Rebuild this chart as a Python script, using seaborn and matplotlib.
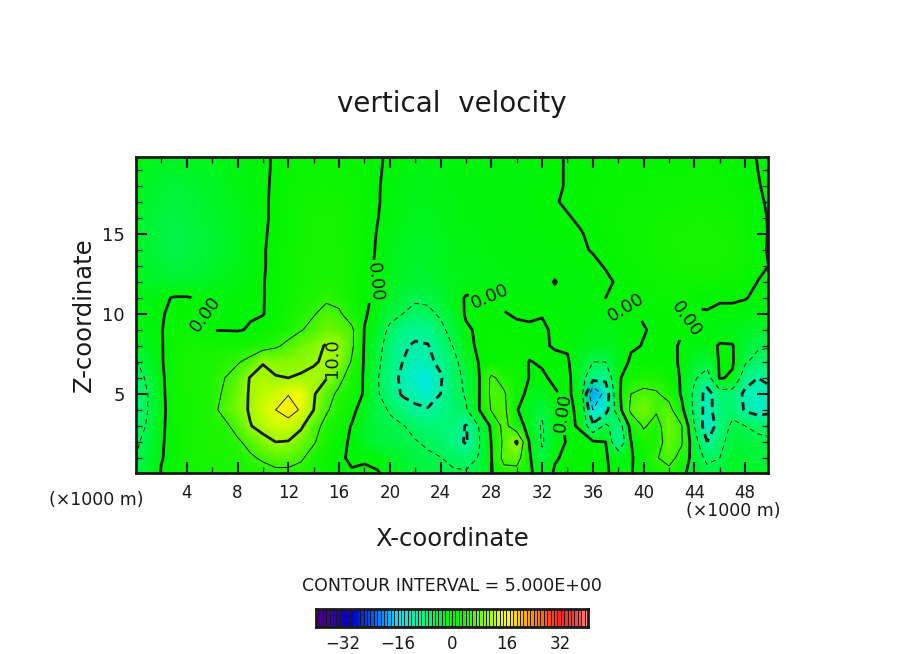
import numpy as np
import matplotlib
matplotlib.use("Agg")
import matplotlib.pyplot as plt
from matplotlib.colors import LinearSegmentedColormap
import seaborn as sns

# values, one list per height (z in km), x = 0..50 km
w_z00 = [-4,-2.2,.3,1.2,2,2.5,2.8,3,3.2,3.5, 3.5,4,4,3.5,2.2,1.3,.8,.2,.5,.3, -.8,-2.5,-3.3,-3.8,-4,-4.5,-4.5,-3.8,-.3,3, 3,.5,-1.5,.3,.5,.5,.5,.2,-.5,-.1, .8,3,4,1,-2,-3.5,-3.5,-2,-2.2,-2.5, -3]
w_z01 = [-5,-3.3,-.2,1.3,2.5,3,3.4,3.3,3.8,4.5, 5.5,6.5,6.5,5.5,3.3,1.5,.3,-.3,-.3,-.8, -2,-3,-3.8,-4.5,-4.9,-5.8,-6.5,-4.8,-.1,6.5, 7,.5,-4,-.2,.4,.6,.8,.2,-1,-.2, 1,4.8,6,4,-2.5,-6,-5,-2.8,-3,-3.5, -4.2]
w_z02 = [-5.5,-3.8,-.4,1.5,2.8,3.3,3.5,3.5,4.5,6, 8.5,10,9.8,7.5,5.4,2.8,.6,-.3,-2,-3.5, -4,-4.3,-4.8,-5.5,-6.5,-8,-10.5,-5.5,.1,6, 10.5,-.2,-5.5,-1.5,.3,.8,.5,0,-10,-.1, 3,3,7,5.3,-3,-10,-6,-3.5,-3.5,-4, -4.3]
w_z03 = [-6.5,-4.5,-.6,1.5,2.7,3.2,3.7,4.3,6.2,9.8, 11.5,13,13,10.8,6.2,4,1.8,-.2,-2.5,-4, -4.5,-4.8,-6,-7,-7.5,-7.5,-10.3,-5,.8,6.5, 2,-1.5,-5.5,-1,.5,-.3,-9,-4,-8,1.5, 5.5,3.5,7.5,5.2,-5,-13,-8,-4,-5,-6, -6.5]
w_z04 = [-7.5,-4.8,-.8,1.6,2.5,3.2,4.2,6,8,10.5, 13,15,17,14.5,10,5.4,3.5,1,-1.8,-4.2, -5.2,-7.5,-9.5,-9.5,-8.5,-6.5,-5.5,-.3,5.3,6, .2,-2,-4,-1,.5,-.5,-15,-12,-2,6, 8,5.5,6.5,1,-6,-12,-7,-6.5,-10.5,-12, -11]
w_z05 = [-8,-4.8,-.8,2,2.8,3.2,3.8,5.5,7.5,10.5, 12,13,14.8,15,10.5,6.3,4.3,2.3,-.4,-4.5, -7.5,-10.5,-10.8,-13,-10,-6.5,-4.6,-.4,6,5.5, 1.5,-1,-2,-.3,.6,-1.5,-20,-13,-1,5, 6,5.5,3.5,-.5,-6,-12,-7,-7,-11,-12, -11]
w_z06 = [-7,-4,-.6,2,3,3.2,4,5,6.5,10.3, 11,10.2,10,10.3,10.8,10.3,6,3.2,-.5,-4.6, -8,-11,-13,-14,-10.5,-6,-4.5,-.4,5.8,3.5, 2,-.1,-.4,.5,1,-3,-8,-9,-.6,2.2, 3.2,3,1.5,-.3,-4.5,-7,.3,-.5,-8,-10, -9]
w_z07 = [-5.3,-2.5,-.3,2,3,3.3,3.6,4.2,4.7,6, 9.8,9,8.8,9.3,9.7,10.5,9.2,4.6,-.4,-4, -7.5,-10,-11,-11,-9,-6.5,-2.5,.1,.9,1.2, 1.3,-.1,.3,.6,.3,-2,-5,-5,-1.5,.4, .9,.9,.6,-.3,-2.5,-3.5,.4,.4,-4.5,-6.5, -6.5]
w_z08 = [-2.5,-1.5,-.2,1.5,2.5,2.8,2.5,2.2,2.5,3, 3.2,4.4,6,7.5,8.5,10.4,9.8,5.8,-.3,-3.5, -7,-9.5,-10.5,-10.2,-7.5,-4.8,-1,.5,1,1.2, 1,.8,.3,-.2,-.3,-1,-1.5,-1.6,-1.2,-.3, .1,.4,.4,-.2,-1.2,-.8,.2,.2,-3,-4.4, -4.8]
w_z09 = [-1.3,-.9,-.1,1,1.5,1.2,-.1,-.1,-.2,.2, 1,2,3.4,4.8,6,7.2,7,5.8,-.1,-2, -6,-8,-8.8,-8.5,-6,-3.5,-.5,.5,.8,.8, .4,.1,.3,-.3,-.6,-.8,-1,-1.2,-1,-.5, -.1,.3,.5,.1,-.5,-.8,-1,-1.6,-2,-2.4, -2.6]
w_z10 = [-1.2,-.8,-.2,.6,.8,.3,-.3,-.4,-.3,-.2, -.1,1,2.5,4,4.8,6,5.6,3,.3,-1, -3.5,-5,-6,-5.8,-4.5,-2.5,.4,.5,.3,.1, -.2,-.1,-.1,-.3,-.5,-.5,-.6,-.8,-.5,-.2, .2,.4,.6,.3,-.4,-.1,-.4,-.6,-.8,-1, -1.2]
w_z11 = [-1.3,-1.2,-.5,.2,.2,-.3,-.8,-.7,-.5,-.3, -.1,.8,2,3.2,4,4.5,3.8,2.2,.5,-.6, -2.2,-3.5,-4.5,-4.3,-3,-1.5,.3,.2,.1,-.4, -.6,-.6,-.5,-.5,-.5,-.4,-.3,0,.3,.6, .8,1,1.2,1.2,.8,.3,.2,.3,.1,-.4, -.8]
w_z12 = [-1.6,-2,-2.5,-2.6,-2.5,-2.2,-1.8,-1.4,-1,-.6, -.1,.7,1.7,2.7,3.3,3.4,3,1.9,.6,-.1, -1.6,-2.5,-3,-3,-2.4,-1.8,-1.5,-1.3,-1.2,-1, -.9,-.8,-.7,.1,-.7,-.6,-.5,-.3,.2,.7, 1.1,1.4,1.6,1.8,1.9,1.9,1.7,1.5,1.1,-.05, -.3]
w_z13 = [-2,-2.6,-3.4,-3.8,-3.7,-3.2,-2.6,-2,-1.4,-.8, -.2,.7,1.6,2.5,3.1,3.3,2.9,2,.7,-.3, -1.5,-2.3,-2.6,-2.5,-1.9,-1.5,-1.3,-1.1,-1,-.9, -.8,-.7,-.7,-.6,-.6,-.5,-.3,.1,.7,1.2, 1.6,1.9,2.2,2.5,2.7,2.8,2.6,2.3,1.7,.5, -.1]
w_z14 = [-2.2,-3,-3.9,-4.5,-4.3,-3.7,-3,-2.3,-1.6,-.9, -.2,.7,1.6,2.4,3,3.2,2.9,2.1,.9,-.2, -1.3,-2,-2.3,-2.2,-1.7,-1.3,-1.1,-1,-.9,-.8, -.7,-.6,-.5,-.4,-.4,-.2,.1,.6,1.1,1.5, 1.9,2.2,2.5,2.8,3,3.2,3,2.6,1.8,.4, -.2]
w_z15 = [-2.2,-3.2,-4,-4.5,-4.3,-3.6,-3,-2.3,-1.6,-1, -.3,.6,1.5,2.3,2.8,3,2.8,2.1,1,-.1, -1.1,-1.8,-2.1,-2,-1.6,-1.2,-1,-.9,-.8,-.7, -.6,-.5,-.4,-.3,-.3,-.1,.3,.8,1.2,1.6, 1.9,2.2,2.5,2.7,2.9,3,2.8,2.4,1.6,.3, -.1]
w_z16 = [-2.2,-3,-3.8,-4.2,-4,-3.4,-2.8,-2.2,-1.5,-1, -.4,.5,1.4,2.2,2.6,2.8,2.6,2,1.1,.1, -.9,-1.5,-1.8,-1.8,-1.4,-1.1,-.9,-.8,-.7,-.6, -.5,-.4,-.3,-.2,-.1,.2,.6,1,1.3,1.6, 1.8,2,2.2,2.4,2.5,2.5,2.3,2,1.3,.5, -.2]
w_z17 = [-2,-2.6,-3.4,-3.8,-3.6,-3,-2.5,-2,-1.4,-.9, -.4,.5,1.3,2,2.4,2.4,2.2,1.8,1.1,.2, -.7,-1.2,-1.5,-1.5,-1.2,-1,-.8,-.7,-.6,-.5, -.5,-.4,-.3,-.1,.2,.5,.8,1,1.2,1.4, 1.5,1.6,1.8,2,2.1,2,1.9,1.6,1,.3, -.3]
w_z18 = [-1.8,-2.2,-3,-3.2,-3,-2.6,-2.2,-1.8,-1.2,-.8, -.4,.4,1.2,1.8,2,2,1.8,1.5,1,.2, -.6,-1,-1.2,-1.2,-1,-.9,-.8,-.7,-.6,-.5, -.5,-.4,-.4,-.2,.1,.4,.7,.9,1,1.1, 1.2,1.3,1.5,1.6,1.6,1.6,1.5,1.2,.8,.1, -.4]
w_z19 = [-1.5,-2,-2.5,-2.5,-2.5,-2,-2,-1.5,-1,-.8, -.4,.3,1,1.5,1.5,1.5,1.5,1.2,1,.3, -.5,-.8,-1,-1,-.8,-.8,-.7,-.6,-.6,-.5, -.5,-.4,-.4,-.2,.1,.4,.6,.8,.8,1, 1,1,1.2,1.2,1.3,1.3,1.2,1,.6,0, -.4]
w_z20 = [-1,-1.5,-2,-2,-2,-1.5,-1.5,-1,-1,-.6, -.3,.2,.8,1,1,1,1,.8,.7,.3, -.3,-.6,-.8,-.8,-.7,-.6,-.6,-.5,-.5,-.5, -.4,-.4,-.3,-.2,.1,.3,.5,.6,.7,.8, .8,.9,1,1,1,1,.9,.8,.5,-.1, -.4]

x_ticks = [4, 8, 12, 16, 20, 24, 28, 32, 36, 40, 44, 48]
z_ticks = [5, 10, 15]
cbar_ticks = [-32, -16, 0, 16, 32]

W, H = 904, 654


def px_rect(left, top, right, bottom):
    return [left / W, 1 - bottom / H, (right - left) / W, (bottom - top) / H]


sns.set_theme(style="ticks")
plt.rcParams['font.family'] = ['DejaVu Sans']

wgrid = np.array([w_z00, w_z01, w_z02, w_z03, w_z04, w_z05, w_z06, w_z07, w_z08, w_z09, w_z10,
                  w_z11, w_z12, w_z13, w_z14, w_z15, w_z16, w_z17, w_z18, w_z19, w_z20])

anchors = [(-40, '#460078'), (-36, '#3c00aa'), (-30, '#0000c8'), (-24, '#0050ff'), (-16, '#00e6ff'),
           (-8, '#00f882'), (-4, '#00f540'), (0, '#00f500'), (4, '#1ef500'), (8, '#78f800'), (16, '#ffff00'),
           (24, '#ff8c00'), (32, '#ff1e1e'), (38, '#ff5050'), (40, '#ffa0a0')]
cmap = LinearSegmentedColormap.from_list('wvel', [((v + 40) / 80, c) for v, c in anchors])

fig = plt.figure(figsize=(W / 100, H / 100), dpi=100)
ax = fig.add_axes(px_rect(136, 157, 768, 473))
sns.heatmap(wgrid, ax=ax, cmap=cmap, vmin=-40, vmax=40, cbar=False,
            xticklabels=False, yticklabels=False, shading='gouraud')

# contours: heavy every other level, dashed below zero
cs0 = ax.contour(wgrid, levels=[0], colors='k', linewidths=2.0, linestyles='-')
cs10 = ax.contour(wgrid, levels=[10], colors='k', linewidths=2.0, linestyles='-')
ax.contour(wgrid, levels=[-20, -10], colors='k', linewidths=2.0, linestyles=[(0, (3, 2))])
ax.contour(wgrid, levels=[5, 15], colors='k', linewidths=0.7, linestyles='-')
ax.contour(wgrid, levels=[-15, -5], colors='k', linewidths=0.7, linestyles=[(0, (5, 4))])
ax.clabel(cs0, fmt='%.2f', fontsize=13, inline=True, inline_spacing=1,
          manual=[(5.5, 10), (18.9, 12), (27.9, 11.2), (33.5, 3.8), (38.2, 9.7), (43.8, 9.6)])
ax.clabel(cs10, fmt='%.1f', fontsize=13, inline=True, inline_spacing=1, manual=[(15.2, 7.3)])

ax.set_xlim(0, 49.8)
ax.set_ylim(0.06, 19.8)
ax.set_axisbelow(False)
ax.set_xticks(x_ticks)
ax.set_xticklabels([str(t) for t in x_ticks], fontsize=12, color='k')
ax.set_xticks(np.arange(2, 50, 4), minor=True)
ax.set_yticks(z_ticks)
ax.set_yticklabels([str(t) for t in z_ticks], fontsize=13, color='k')
ax.set_yticks(np.arange(1, 20), minor=True)
ax.tick_params(which='major', direction='in', length=8, width=1.5, top=True, right=True,
               bottom=True, left=True, color='k', pad=8)
ax.tick_params(which='minor', direction='in', length=4, width=1, top=True, right=True,
               bottom=True, left=True, color='k')
for s in ax.spines.values():
    s.set_visible(True)
    s.set_linewidth(2)
    s.set_color('k')

# colour key
cax = fig.add_axes(px_rect(316, 609, 588, 627))
key = (np.arange(80) - 39.5).reshape(1, -1)
sns.heatmap(key, ax=cax, cmap=cmap, vmin=-40, vmax=40, cbar=False, xticklabels=False,
            yticklabels=False, linewidths=0.45, linecolor='k')
cax.set_xticks([t + 40 for t in cbar_ticks])
cax.set_xticklabels([str(t).replace('-', '\u2212') for t in cbar_ticks], fontsize=12, color='k', rotation=0)
cax.tick_params(axis='x', length=0, pad=6, bottom=True)
for s in cax.spines.values():
    s.set_visible(True)
    s.set_linewidth(2)
    s.set_color('k')


def label(x, y, txt, size, **kw):
    fig.text(x / W, 1 - y / H, txt, fontsize=size, ha='center', va='center', color='k', **kw)


label(452, 104, 'vertical  velocity', 20)
label(452, 539, 'X-coordinate', 17.5)
label(84, 315, 'Z-coordinate', 17.5, rotation=90)
label(96, 500, '(\u00d71000 m)', 12.5)
label(733, 511, '(\u00d71000 m)', 12.5)
label(452, 586, 'CONTOUR INTERVAL = 5.000E+00', 12.5)

fig.savefig('out.png', dpi=100)
